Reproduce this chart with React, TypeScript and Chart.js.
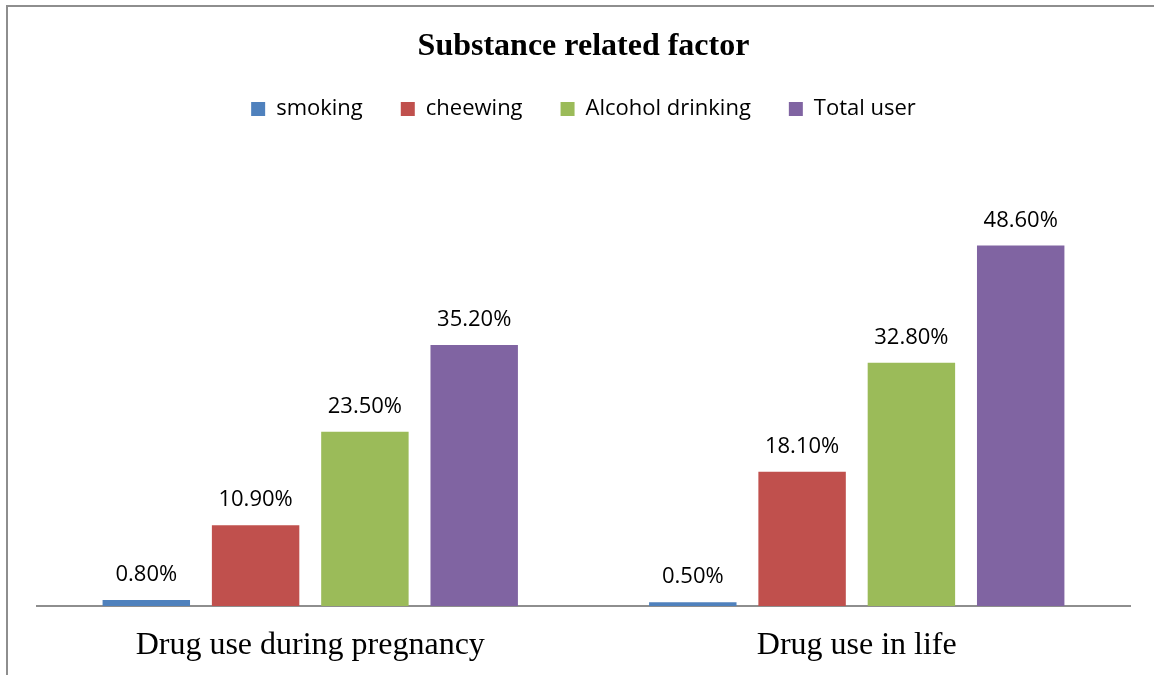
import { useEffect, useRef } from 'react';
import { Chart, registerables } from 'chart.js';

Chart.register(...registerables);

const categories = ['Drug use during pregnancy', 'Drug use in life'];
const seriesNames = ['smoking', 'cheewing', 'Alcohol drinking', 'Total user'];
const smoking = [0.8, 0.5];
const cheewing = [10.9, 18.1];
const alcoholDrinking = [23.5, 32.8];
const totalUser = [35.2, 48.6];
const seriesColors = ['#4F81BD', '#C0504D', '#9BBB59', '#8064A2'];
const yMax = 60;

const CANVAS_W = 1167;
const CANVAS_H = 700;
const SERIF = "'Liberation Serif', 'Times New Roman', serif";
const SANS = "'Open Sans', 'Liberation Sans', sans-serif";

// White page plus the grey frame line along the left and top edges.
const framePlugin = {
  id: 'frame',
  beforeDraw(chart: any) {
    const { ctx, width, height } = chart;
    ctx.save();
    ctx.fillStyle = '#ffffff';
    ctx.fillRect(0, 0, width, height);
    ctx.strokeStyle = '#8e8e8e';
    ctx.lineWidth = 2;
    ctx.beginPath();
    ctx.moveTo(7, height);
    ctx.lineTo(7, 6);
    ctx.lineTo(width, 6);
    ctx.stroke();
    ctx.restore();
  },
};

// Percentage labels above every bar.
const valueLabelPlugin = {
  id: 'valueLabels',
  afterDatasetsDraw(chart: any) {
    const { ctx } = chart;
    ctx.save();
    ctx.fillStyle = '#000000';
    ctx.font = `22px ${SANS}`;
    ctx.textAlign = 'center';
    ctx.textBaseline = 'alphabetic';
    chart.data.datasets.forEach((ds: any, di: number) => {
      const meta = chart.getDatasetMeta(di);
      meta.data.forEach((bar: any, i: number) => {
        const v = ds.data[i] as number;
        ctx.fillText(`${v.toFixed(2)}%`, bar.x, bar.y - 19);
      });
    });
    ctx.restore();
  },
};

export default function App() {
  const canvasRef = useRef<HTMLCanvasElement | null>(null);

  useEffect(() => {
    if (!canvasRef.current) return;
    const values = [smoking, cheewing, alcoholDrinking, totalUser];
    const chart = new Chart(canvasRef.current, {
      type: 'bar',
      data: {
        labels: categories,
        datasets: seriesNames.map((name, k) => ({
          label: name,
          data: values[k],
          backgroundColor: seriesColors[k],
          borderWidth: 0,
          categoryPercentage: 0.8,
          barPercentage: 0.8,
        })),
      },
      options: {
        responsive: false,
        animation: false,
        devicePixelRatio: 1,
        layout: { padding: { left: 37, right: 37, top: 0, bottom: 14.6 } },
        plugins: {
          title: {
            display: true,
            text: 'Substance related factor',
            color: '#000000',
            font: { family: SERIF, size: 32, weight: 'bold', lineHeight: 0.75 },
            padding: { top: 35, bottom: 1 },
          },
          legend: {
            display: true,
            position: 'top',
            labels: {
              boxWidth: 14,
              boxHeight: 14,
              padding: 38,
              color: '#000000',
              font: { family: SANS, size: 22 },
            },
          },
          tooltip: { enabled: false },
        },
        scales: {
          x: {
            type: 'category',
            grid: { display: false, drawTicks: false },
            border: { display: true, color: '#8e8e8e', width: 2 },
            ticks: { color: '#000000', padding: 20.5, font: { family: SERIF, size: 32 } },
          },
          // Blank top axis: only reserves the gap between the legend and the bars.
          x2: {
            type: 'category',
            position: 'top',
            display: true,
            grid: { display: false, drawTicks: false },
            border: { display: false },
            ticks: { display: false },
            afterFit: (scale: any) => {
              scale.height = 31;
            },
          },
          y: { display: false, min: 0, max: yMax },
        },
      },
      plugins: [framePlugin, valueLabelPlugin],
    } as any);
    return () => chart.destroy();
  }, []);

  return (
    <div style={{ position: 'absolute', left: 0, top: 0, width: 1154, height: 675, overflow: 'hidden', background: '#fff' }}>
      <canvas ref={canvasRef} width={CANVAS_W} height={CANVAS_H} style={{ display: 'block' }} />
    </div>
  );
}
